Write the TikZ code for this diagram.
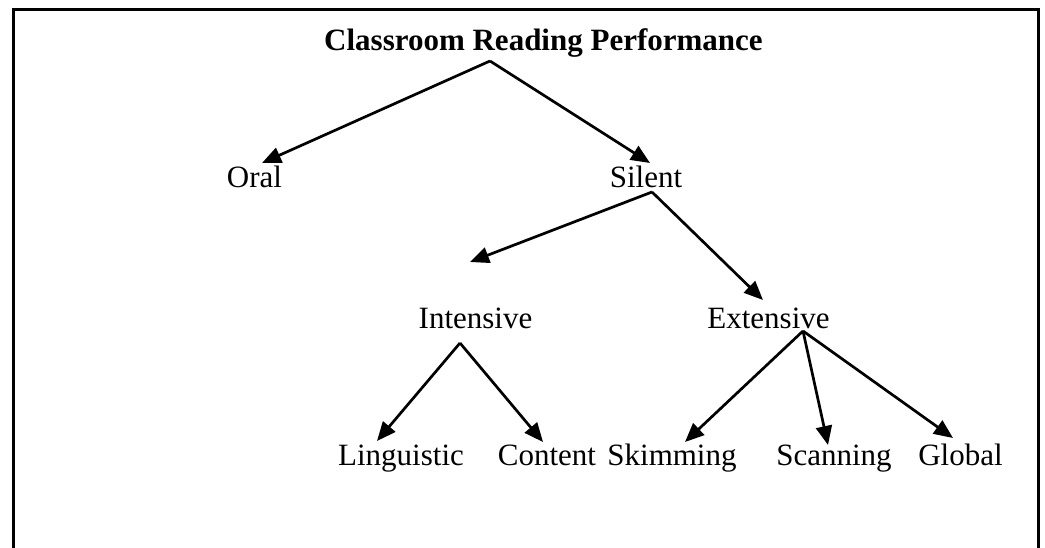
\documentclass[tikz,border=0pt]{standalone}
\usepackage{fontspec}
\setmainfont{Liberation Serif}
\usetikzlibrary{arrows.meta}
\begin{document}
\begin{tikzpicture}[x=1pt,y=-1pt,
  lbl/.style={anchor=base,inner sep=0pt,font=\fontsize{31}{36}\selectfont},
  ttl/.style={lbl,font=\fontsize{31}{36}\selectfont\bfseries},
  arr/.style={line width=2.7pt,-{Triangle[length=19pt,width=16pt]}},
  frame/.style={line width=3pt}]
\useasboundingbox (0,0) rectangle (1045,548);
\draw[frame] (13,560) -- (13,10) -- (1038,10) -- (1038,560);
% nodes
\node[ttl] (title) at (543.5,51) {Classroom Reading Performance};
\node[lbl] (oral) at (254.5,188) {Oral};
\node[lbl] (silent) at (646,188) {Silent};
\node[lbl] (intensive) at (475.5,328) {Intensive};
\node[lbl] (extensive) at (768.5,328) {Extensive};
\node[lbl] (ling) at (401,465) {Linguistic};
\node[lbl] (content) at (547,465) {Content};
\node[lbl] (skim) at (672,465) {Skimming};
\node[lbl] (scan) at (834,465) {Scanning};
\node[lbl] (global) at (960.5,465) {Global};
% connector ends
\coordinate (t-out) at (490,61);
\coordinate (oral-in) at (262,163);
\coordinate (silent-in) at (650,163);
\coordinate (s-out) at (652,192);
\coordinate (int-in) at (470,262);
\coordinate (ext-in) at (763,300);
\coordinate (i-out) at (460,343);
\coordinate (ling-in) at (377,441);
\coordinate (content-in) at (543,442);
\coordinate (e-out) at (803,331);
\coordinate (skim-in) at (685,442);
\coordinate (scan-in) at (828,445);
\coordinate (global-in) at (953,438);
% connectors
\draw[arr] (t-out) -- (oral-in);
\draw[arr] (t-out) -- (silent-in);
\draw[arr] (s-out) -- (int-in);
\draw[arr] (s-out) -- (ext-in);
\draw[arr] (i-out) -- (ling-in);
\draw[arr] (i-out) -- (content-in);
\draw[arr] (e-out) -- (skim-in);
\draw[arr] (e-out) -- (scan-in);
\draw[arr] (e-out) -- (global-in);
\end{tikzpicture}
\end{document}
